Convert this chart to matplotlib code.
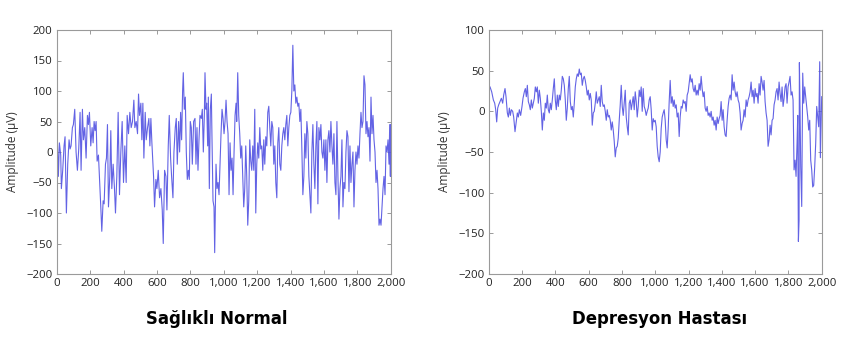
import matplotlib
matplotlib.use("Agg")
import matplotlib.pyplot as plt
from matplotlib.ticker import FuncFormatter, MultipleLocator
from matplotlib import font_manager as fm

# ---------------- data ----------------
healthy_x = [0, 4, 10, 16, 24, 28, 36, 44, 50, 58, 66, 74, 80, 86, 94, 100, 108, 116, 124, 132,
             140, 146, 154, 160, 168, 176, 184, 190, 196, 204, 212, 218, 224, 230, 236, 242, 250,
             256, 264, 270, 278, 284, 292, 298, 304, 310, 318, 324, 330, 338, 346, 352, 360, 368,
             376, 384, 392, 400, 408, 416, 422, 430, 438, 446, 454, 462, 468, 476, 484, 490, 496,
             504, 510, 516, 522, 530, 536, 544, 552, 558, 564, 570, 580, 586, 594, 600, 608, 616,
             624, 632, 638, 646, 654, 660, 668, 674, 682, 688, 696, 702, 710, 716, 722, 730, 736,
             742, 748, 754, 758, 764, 770, 776, 782, 788, 794, 800, 806, 812, 820, 828, 834, 840,
             846, 852, 858, 866, 872, 878, 884, 888, 894, 898, 904, 908, 914, 920, 926, 930, 936,
             942, 946, 954, 960, 966, 972, 978, 984, 990, 996, 1002, 1008, 1014, 1020, 1026, 1032,
             1038, 1044, 1050, 1056, 1062, 1068, 1074, 1078, 1084, 1090, 1096, 1102, 1108, 1114,
             1120, 1126, 1132, 1138, 1144, 1150, 1156, 1162, 1168, 1174, 1180, 1186, 1192, 1198,
             1204, 1210, 1216, 1222, 1228, 1234, 1240, 1246, 1252, 1258, 1264, 1270, 1276, 1282,
             1288, 1294, 1300, 1306, 1312, 1318, 1324, 1330, 1336, 1342, 1348, 1354, 1360, 1366,
             1372, 1378, 1384, 1390, 1396, 1402, 1408, 1414, 1420, 1426, 1432, 1438, 1444, 1450,
             1456, 1462, 1468, 1474, 1480, 1486, 1492, 1498, 1504, 1510, 1516, 1522, 1528, 1534,
             1540, 1546, 1552, 1558, 1564, 1570, 1576, 1582, 1588, 1594, 1600, 1606, 1612, 1618,
             1624, 1630, 1636, 1642, 1648, 1654, 1660, 1666, 1672, 1678, 1684, 1690, 1696, 1702,
             1708, 1714, 1720, 1726, 1732, 1738, 1744, 1750, 1756, 1762, 1768, 1774, 1780, 1786,
             1792, 1798, 1804, 1810, 1816, 1822, 1828, 1834, 1840, 1846, 1852, 1858, 1864, 1870,
             1876, 1882, 1888, 1894, 1900, 1906, 1912, 1918, 1924, 1930, 1936, 1942, 1948, 1954,
             1960, 1966, 1972, 1978, 1984, 1990, 1994, 1998, 2000]
healthy_y = [10, 18, -40, 15, -5, -60, -30, 10, 25, -100, -20, 20, 5, 10, 40, 45, 70, 0, -30, 5,
             65, -30, 70, 20, 40, -10, 60, 45, 65, 10, 40, 15, 50, 35, 50, -15, -5,
             -40, -90, -130, -80, -85, -20, -10, 45, -90, -40, 35, -60, -20, -60, -100, -40, 65,
             -70, 0, 50, -50, 10, -50, 60, 30, 65, 40, 50, 85, 40, 50, 30, 95, 60,
             80, 20, 80, -10, 65, 20, 40, 55, 10, 55, 15, -40, -90, -45, -60, -30, -75,
             -60, -95, -150, -30, -40, -95, 10, 60, -10, -40, -75, 0, 40, 55, -20, 50, 0,
             65, 20, 100, 130, 70, 90, 0, -45, -30, -45, 50, 40, -20, 50, 55, -20, 40,
             -30, 20, 60, 55, 70, 0, 60, 130, 70, 80, 10, 90, -60, 70, 95, 20, -80,
             -90, -165, -20, -60, -50, -70, -20, 30, 70, 55, 30, 50, 85, 50, 30, -70,
             15, -30, -10, -70, 0, 60, 80, 50, 130, 60, 30, -10, 10, -40,
             -90, -60, 10, -40, -120, -80, 20, -15, -30, 10, -30, 70, -100, -20,
             15, -10, 40, 5, 10, -30, 20, -20, 25, 10, 65, 75, 40, 10,
             50, 40, -20, 10, -50, -75, 15, 40, -20, -30, 10, 30, 40, 20,
             45, 60, 10, 40, 60, 65, 100, 175, 100, 110, 80, 90, 75, 80,
             50, 70, 5, -70, -40, 30, -10, 50, 30, -40, -70, -100, 0, 45,
             -20, -60, 10, 50, -85, 40, 20, 45, 0, -10, 20, -30, 20, -50,
             20, 35, 0, 50, 10, -20, 30, -50, -70, 50, -40, -110, -60, -40,
             20, -90, -50, -60, 0, 35, 25, -65, 10, -50, -20, 0, -90, -30,
             0, -20, 10, -10, 30, 65, 40, 50, 125, 110, 30, 50, 25, 40,
             -15, 90, 30, 60, 20, 0, -50, -30, -60, -120, -110, -120, -90, -60,
             -40, -70, 10, 0, 20, -20, 45, -40, 45]

depressed_x = [0, 8, 18, 28, 36, 42, 48, 54, 60, 68, 76, 84, 90, 98, 104, 112, 118, 124, 130, 136,
               144, 150, 158, 164, 172, 178, 184, 192, 200, 206, 214, 220, 226, 232, 238, 244, 250,
               256, 262, 268, 274, 280, 286, 292, 298, 304, 310, 316, 322, 328, 334, 340, 346, 352,
               358, 364, 370, 376, 382, 388, 394, 400, 406, 412, 418, 424, 430, 436, 442, 448, 454,
               460, 466, 472, 478, 484, 490, 496, 502, 508, 514, 520, 526, 532, 538, 544, 550, 556,
               562, 568, 574, 580, 586, 592, 598, 604, 610, 616, 622, 628, 634, 640, 646, 652, 658,
               664, 670, 676, 682, 688, 694, 700, 706, 712, 718, 724, 730, 736, 742, 748, 754, 760,
               766, 772, 778, 784, 790, 796, 802, 808, 814, 820, 826, 832, 838, 844, 850, 856, 862,
               868, 874, 880, 886, 892, 898, 904, 910, 916, 922, 928, 934, 940, 946, 952, 958, 964,
               970, 976, 982, 988, 994, 1000, 1006, 1012, 1018, 1024, 1030, 1036, 1042, 1048, 1054,
               1060, 1066, 1072, 1078, 1084, 1090, 1096, 1102, 1108, 1114, 1120, 1126, 1132, 1138,
               1144, 1150, 1156, 1162, 1168, 1174, 1180, 1186, 1192, 1198, 1204, 1210, 1216, 1222,
               1228, 1234, 1240, 1246, 1252, 1258, 1264, 1270, 1276, 1282, 1288, 1294, 1300, 1306,
               1312, 1318, 1324, 1330, 1336, 1342, 1348, 1354, 1360, 1366, 1372, 1378, 1384, 1390,
               1396, 1402, 1408, 1414, 1420, 1426, 1432, 1438, 1444, 1450, 1456, 1462, 1468, 1474,
               1480, 1486, 1492, 1498, 1504, 1510, 1516, 1522, 1528, 1534, 1540, 1546, 1552, 1558,
               1564, 1570, 1576, 1582, 1588, 1594, 1600, 1606, 1612, 1618, 1624, 1630, 1636, 1642,
               1648, 1654, 1660, 1666, 1672, 1678, 1684, 1690, 1696, 1702, 1708, 1714, 1720, 1726,
               1732, 1738, 1744, 1750, 1756, 1762, 1768, 1774, 1780, 1786, 1792, 1798, 1804, 1810,
               1816, 1822, 1828, 1834, 1840, 1846, 1852, 1856, 1860, 1864, 1866, 1870, 1874, 1880,
               1886, 1892, 1898, 1904, 1910, 1916, 1922, 1928, 1934, 1940, 1946, 1952, 1958, 1964,
               1970, 1976, 1982, 1988, 1992, 2000]
depressed_y = [32, 30, 24, 14, 10, 2, -13, 4, 8, 12, 16, 10, 20, 28, 18, -2, -7, 4, -5, 2,
               0, -7, -25, -15, -2, -7, 2, -5, 6, 16, 24, 28, 18, 32, 12, 8, 2,
               14, 4, 10, 16, 30, 24, 30, 10, 26, 16, 0, -23, -2, -11, 10, 4, 20,
               2, -2, 10, 2, 14, 28, 40, 14, 2, 20, 6, 20, 14, 26, 43, 40, 32,
               14, -11, 4, 28, 43, 12, 2, 6, -7, 10, 30, 40, 46, 43, 52, 45, 47,
               32, 40, 43, 38, 30, 20, 26, 14, 22, 14, -17, -2, 0, 10, 24, 10, 14,
               18, 6, 32, 12, 6, 8, 0, -11, 2, -7, -5, -11, -23, -13, -23, -37, -56,
               -45, -43, -33, -11, 8, 32, 6, -5, 10, 26, -7, -19, -29, 10, 14, 2,
               10, 18, 2, 24, 12, -7, 6, 26, 18, 30, 0, 28, 6, 2, -5, 0, 4,
               14, 18, 2, -23, -9, -13, -11, -19, -43, -56, -62, -50, -21, -7, -2,
               2, -11, -35, -45, -21, 12, 38, 10, 18, 6, 14, 4, 8, -7,
               -2, -31, -7, 6, 4, 14, 10, 12, 0, 20, 24, 34, 45, 36,
               40, 28, 24, 32, 20, 26, 20, 34, 26, 43, 28, 18, 24, 4,
               0, 6, -5, -2, -7, 0, -11, -7, -17, -11, -23, -7, -15, -9,
               -5, 12, -11, 2, -19, -29, -31, -11, 6, 16, 20, 14, 45, 26,
               36, 24, 18, 24, 14, 10, -2, -23, -15, -11, 2, -7, 14, 6,
               14, 18, 24, 36, 18, 26, 10, 28, 18, 22, 10, 34, 20, 43,
               36, 26, 38, 12, -2, -11, -43, -35, -17, -29, -11, -9, 8, 14,
               24, 28, 14, 36, 22, 12, 30, 6, 16, 30, 34, 10, 30, 36,
               43, 20, 24, 14, -72, -60, -80, -39, -5, -160, -134, 60, 2, -68,
               -117, 47, 10, 30, 18, 6, -7, -23, -11, -60, -72, -93, -91, -68,
               -39, 6, -7, -19, 61, -57, 18]

panel_titles = ["Sağlıklı Normal", "Depresyon Hastası"]
y_label = "Amplitude (μV)"
x_ticks = [0, 200, 400, 600, 800, 1000, 1200, 1400, 1600, 1800, 2000]
left_ylim = (-200, 200)
right_ylim = (-200, 100)

# ---------------- figure ----------------
W, H = 844, 354
fig = plt.figure(figsize=(W / 100, H / 100), dpi=100)
fig.patch.set_facecolor("white")

tick_font = "Open Sans"
line_color = "#5252e2"
spine_color = "#9a9a9a"

# pick a condensed bold face for the panel captions if one is installed
names = {f.name for f in fm.fontManager.ttflist}
cond = [f for f in fm.fontManager.ttflist
        if f.name == "DejaVu Sans" and "ondensed" in str(f.stretch) + f.fname and f.weight in (700, "bold")]
if "Liberation Sans Narrow" in names:
    title_props = dict(fontfamily=["Liberation Sans Narrow", "DejaVu Sans"], fontsize=15)
elif cond:
    title_props = dict(fontfamily=["DejaVu Sans"], fontstretch="condensed", fontsize=13.2)
else:
    title_props = dict(fontfamily=["Roboto", "DejaVu Sans"], fontsize=14)


def px_axes(x0, x1, y0, y1):
    return fig.add_axes([x0 / W, 1 - y1 / H, (x1 - x0) / W, (y1 - y0) / H])


def style(ax, ylim):
    ax.set_xlim(0, 2000)
    ax.set_ylim(*ylim)
    ax.set_xticks(x_ticks)
    ax.yaxis.set_major_locator(MultipleLocator(50))
    ax.xaxis.set_major_formatter(FuncFormatter(lambda v, p: f"{int(v):,}"))
    ax.yaxis.set_major_formatter(FuncFormatter(lambda v, p: f"{int(v)}".replace("-", "\u2212")))
    ax.tick_params(direction="in", length=3, width=0.7, colors=spine_color,
                   top=True, right=True, labelcolor="#222222", labelsize=8.2, pad=3)
    for lab in ax.get_xticklabels() + ax.get_yticklabels():
        lab.set_fontfamily(tick_font)
    for s in ax.spines.values():
        s.set_color(spine_color)
        s.set_linewidth(0.8)
    ax.set_ylabel(y_label, fontfamily=tick_font, fontsize=8.5, color="#333333", labelpad=5)


ax1 = px_axes(56.7, 390.7, 30, 274)
ax1.plot(healthy_x, healthy_y, color=line_color, lw=0.8, alpha=0.9)
style(ax1, left_ylim)

ax2 = px_axes(488.7, 821.7, 30, 274)
ax2.plot(depressed_x, depressed_y, color=line_color, lw=0.8, alpha=0.9)
style(ax2, right_ylim)

fig.text(216.7 / W, 1 - 324 / H, panel_titles[0], ha="center", va="baseline",
         fontweight="bold", color="black", **title_props)
fig.text(659.7 / W, 1 - 324 / H, panel_titles[1], ha="center", va="baseline",
         fontweight="bold", color="black", **title_props)

fig.savefig("out.png", dpi=100, facecolor="white")
